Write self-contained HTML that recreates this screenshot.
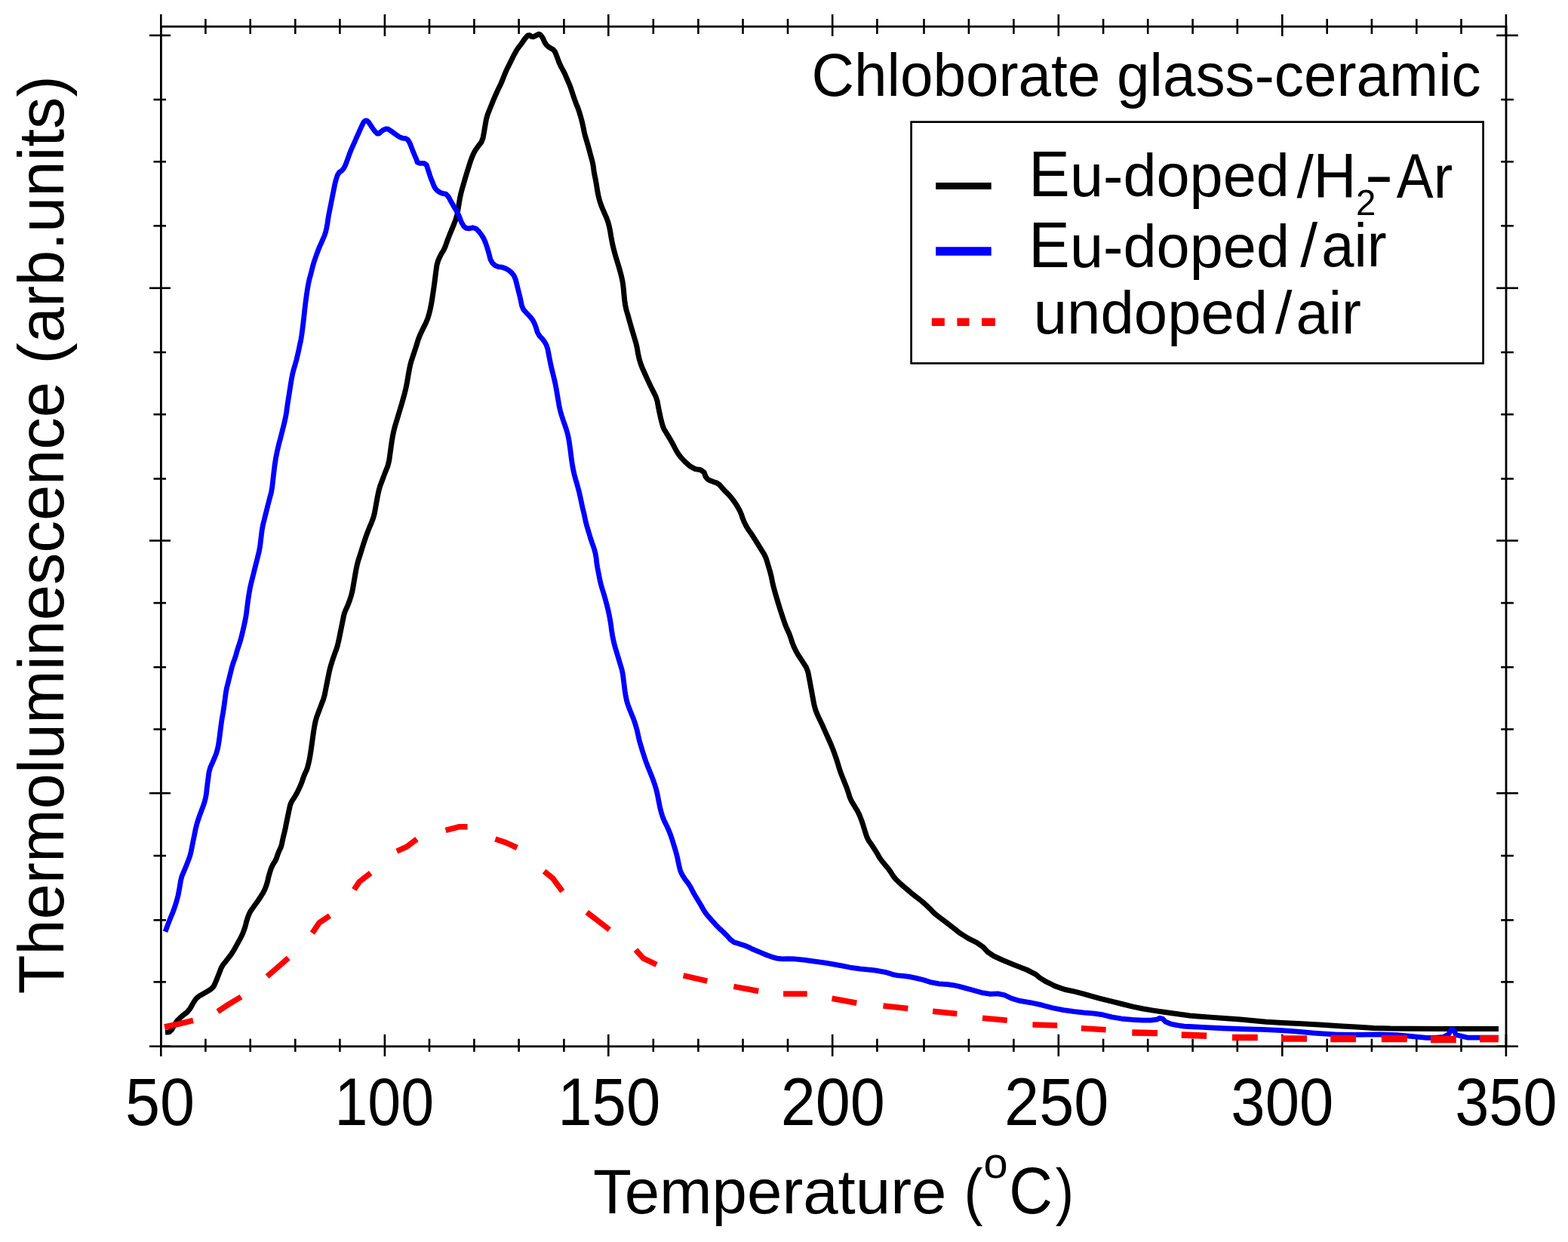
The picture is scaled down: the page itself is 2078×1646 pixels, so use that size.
<!DOCTYPE html>
<html><head><meta charset="utf-8"><title>Thermoluminescence</title>
<style>
html,body{margin:0;padding:0;background:#fff;}
body{width:2078px;height:1646px;overflow:hidden;}
svg{display:block;}
text{font-family:"Liberation Sans", Arial, Helvetica, sans-serif;}
</style></head>
<body>
<svg xmlns="http://www.w3.org/2000/svg" width="2078" height="1646" viewBox="0 0 2078 1646">
<rect width="2078" height="1646" fill="#fff"/>
<line x1="213.3" y1="19" x2="213.3" y2="48" stroke="#000" stroke-width="2.6"/>
<line x1="213.3" y1="1370.8" x2="213.3" y2="1400" stroke="#000" stroke-width="2.6"/>
<line x1="272.4" y1="25" x2="272.4" y2="45" stroke="#000" stroke-width="2.6"/>
<line x1="272.4" y1="1376.7" x2="272.4" y2="1393.9" stroke="#000" stroke-width="2.6"/>
<line x1="331.7" y1="25" x2="331.7" y2="45" stroke="#000" stroke-width="2.6"/>
<line x1="331.7" y1="1376.7" x2="331.7" y2="1393.9" stroke="#000" stroke-width="2.6"/>
<line x1="391.3" y1="25" x2="391.3" y2="45" stroke="#000" stroke-width="2.6"/>
<line x1="391.3" y1="1376.7" x2="391.3" y2="1393.9" stroke="#000" stroke-width="2.6"/>
<line x1="450.4" y1="25" x2="450.4" y2="45" stroke="#000" stroke-width="2.6"/>
<line x1="450.4" y1="1376.7" x2="450.4" y2="1393.9" stroke="#000" stroke-width="2.6"/>
<line x1="509.9" y1="19" x2="509.9" y2="48" stroke="#000" stroke-width="2.6"/>
<line x1="509.9" y1="1370.8" x2="509.9" y2="1400" stroke="#000" stroke-width="2.6"/>
<line x1="569" y1="25" x2="569" y2="45" stroke="#000" stroke-width="2.6"/>
<line x1="569" y1="1376.7" x2="569" y2="1393.9" stroke="#000" stroke-width="2.6"/>
<line x1="628.4" y1="25" x2="628.4" y2="45" stroke="#000" stroke-width="2.6"/>
<line x1="628.4" y1="1376.7" x2="628.4" y2="1393.9" stroke="#000" stroke-width="2.6"/>
<line x1="687.6" y1="25" x2="687.6" y2="45" stroke="#000" stroke-width="2.6"/>
<line x1="687.6" y1="1376.7" x2="687.6" y2="1393.9" stroke="#000" stroke-width="2.6"/>
<line x1="747.4" y1="25" x2="747.4" y2="45" stroke="#000" stroke-width="2.6"/>
<line x1="747.4" y1="1376.7" x2="747.4" y2="1393.9" stroke="#000" stroke-width="2.6"/>
<line x1="806.3" y1="19" x2="806.3" y2="48" stroke="#000" stroke-width="2.6"/>
<line x1="806.3" y1="1370.8" x2="806.3" y2="1400" stroke="#000" stroke-width="2.6"/>
<line x1="865.8" y1="25" x2="865.8" y2="45" stroke="#000" stroke-width="2.6"/>
<line x1="865.8" y1="1376.7" x2="865.8" y2="1393.9" stroke="#000" stroke-width="2.6"/>
<line x1="925.4" y1="25" x2="925.4" y2="45" stroke="#000" stroke-width="2.6"/>
<line x1="925.4" y1="1376.7" x2="925.4" y2="1393.9" stroke="#000" stroke-width="2.6"/>
<line x1="984.5" y1="25" x2="984.5" y2="45" stroke="#000" stroke-width="2.6"/>
<line x1="984.5" y1="1376.7" x2="984.5" y2="1393.9" stroke="#000" stroke-width="2.6"/>
<line x1="1044" y1="25" x2="1044" y2="45" stroke="#000" stroke-width="2.6"/>
<line x1="1044" y1="1376.7" x2="1044" y2="1393.9" stroke="#000" stroke-width="2.6"/>
<line x1="1103.2" y1="19" x2="1103.2" y2="48" stroke="#000" stroke-width="2.6"/>
<line x1="1103.2" y1="1370.8" x2="1103.2" y2="1400" stroke="#000" stroke-width="2.6"/>
<line x1="1162.4" y1="25" x2="1162.4" y2="45" stroke="#000" stroke-width="2.6"/>
<line x1="1162.4" y1="1376.7" x2="1162.4" y2="1393.9" stroke="#000" stroke-width="2.6"/>
<line x1="1224.5" y1="25" x2="1224.5" y2="45" stroke="#000" stroke-width="2.6"/>
<line x1="1224.5" y1="1376.7" x2="1224.5" y2="1393.9" stroke="#000" stroke-width="2.6"/>
<line x1="1283.9" y1="25" x2="1283.9" y2="45" stroke="#000" stroke-width="2.6"/>
<line x1="1283.9" y1="1376.7" x2="1283.9" y2="1393.9" stroke="#000" stroke-width="2.6"/>
<line x1="1343.4" y1="25" x2="1343.4" y2="45" stroke="#000" stroke-width="2.6"/>
<line x1="1343.4" y1="1376.7" x2="1343.4" y2="1393.9" stroke="#000" stroke-width="2.6"/>
<line x1="1402.8" y1="19" x2="1402.8" y2="48" stroke="#000" stroke-width="2.6"/>
<line x1="1402.8" y1="1370.8" x2="1402.8" y2="1400" stroke="#000" stroke-width="2.6"/>
<line x1="1462.1" y1="25" x2="1462.1" y2="45" stroke="#000" stroke-width="2.6"/>
<line x1="1462.1" y1="1376.7" x2="1462.1" y2="1393.9" stroke="#000" stroke-width="2.6"/>
<line x1="1521.2" y1="25" x2="1521.2" y2="45" stroke="#000" stroke-width="2.6"/>
<line x1="1521.2" y1="1376.7" x2="1521.2" y2="1393.9" stroke="#000" stroke-width="2.6"/>
<line x1="1580.6" y1="25" x2="1580.6" y2="45" stroke="#000" stroke-width="2.6"/>
<line x1="1580.6" y1="1376.7" x2="1580.6" y2="1393.9" stroke="#000" stroke-width="2.6"/>
<line x1="1639.8" y1="25" x2="1639.8" y2="45" stroke="#000" stroke-width="2.6"/>
<line x1="1639.8" y1="1376.7" x2="1639.8" y2="1393.9" stroke="#000" stroke-width="2.6"/>
<line x1="1699.3" y1="19" x2="1699.3" y2="48" stroke="#000" stroke-width="2.6"/>
<line x1="1699.3" y1="1370.8" x2="1699.3" y2="1400" stroke="#000" stroke-width="2.6"/>
<line x1="1758.7" y1="25" x2="1758.7" y2="45" stroke="#000" stroke-width="2.6"/>
<line x1="1758.7" y1="1376.7" x2="1758.7" y2="1393.9" stroke="#000" stroke-width="2.6"/>
<line x1="1817.9" y1="25" x2="1817.9" y2="45" stroke="#000" stroke-width="2.6"/>
<line x1="1817.9" y1="1376.7" x2="1817.9" y2="1393.9" stroke="#000" stroke-width="2.6"/>
<line x1="1877.3" y1="25" x2="1877.3" y2="45" stroke="#000" stroke-width="2.6"/>
<line x1="1877.3" y1="1376.7" x2="1877.3" y2="1393.9" stroke="#000" stroke-width="2.6"/>
<line x1="1936.5" y1="25" x2="1936.5" y2="45" stroke="#000" stroke-width="2.6"/>
<line x1="1936.5" y1="1376.7" x2="1936.5" y2="1393.9" stroke="#000" stroke-width="2.6"/>
<line x1="1995.9" y1="19" x2="1995.9" y2="48" stroke="#000" stroke-width="2.6"/>
<line x1="1995.9" y1="1370.8" x2="1995.9" y2="1400" stroke="#000" stroke-width="2.6"/>
<line x1="198" y1="46.9" x2="226" y2="46.9" stroke="#000" stroke-width="2.6"/>
<line x1="1983.2" y1="46.9" x2="2011.9" y2="46.9" stroke="#000" stroke-width="2.6"/>
<line x1="203.5" y1="132" x2="220" y2="132" stroke="#000" stroke-width="2.6"/>
<line x1="1989.2" y1="132" x2="2005.9" y2="132" stroke="#000" stroke-width="2.6"/>
<line x1="203.5" y1="214.3" x2="220" y2="214.3" stroke="#000" stroke-width="2.6"/>
<line x1="1989.2" y1="214.3" x2="2005.9" y2="214.3" stroke="#000" stroke-width="2.6"/>
<line x1="203.5" y1="299.3" x2="220" y2="299.3" stroke="#000" stroke-width="2.6"/>
<line x1="1989.2" y1="299.3" x2="2005.9" y2="299.3" stroke="#000" stroke-width="2.6"/>
<line x1="198" y1="381.8" x2="226" y2="381.8" stroke="#000" stroke-width="2.6"/>
<line x1="1983.2" y1="381.8" x2="2011.9" y2="381.8" stroke="#000" stroke-width="2.6"/>
<line x1="203.5" y1="466.9" x2="220" y2="466.9" stroke="#000" stroke-width="2.6"/>
<line x1="1989.2" y1="466.9" x2="2005.9" y2="466.9" stroke="#000" stroke-width="2.6"/>
<line x1="203.5" y1="549.2" x2="220" y2="549.2" stroke="#000" stroke-width="2.6"/>
<line x1="1989.2" y1="549.2" x2="2005.9" y2="549.2" stroke="#000" stroke-width="2.6"/>
<line x1="203.5" y1="634.5" x2="220" y2="634.5" stroke="#000" stroke-width="2.6"/>
<line x1="1989.2" y1="634.5" x2="2005.9" y2="634.5" stroke="#000" stroke-width="2.6"/>
<line x1="198" y1="716.5" x2="226" y2="716.5" stroke="#000" stroke-width="2.6"/>
<line x1="1983.2" y1="716.5" x2="2011.9" y2="716.5" stroke="#000" stroke-width="2.6"/>
<line x1="203.5" y1="799.1" x2="220" y2="799.1" stroke="#000" stroke-width="2.6"/>
<line x1="1989.2" y1="799.1" x2="2005.9" y2="799.1" stroke="#000" stroke-width="2.6"/>
<line x1="203.5" y1="884.2" x2="220" y2="884.2" stroke="#000" stroke-width="2.6"/>
<line x1="1989.2" y1="884.2" x2="2005.9" y2="884.2" stroke="#000" stroke-width="2.6"/>
<line x1="203.5" y1="966.5" x2="220" y2="966.5" stroke="#000" stroke-width="2.6"/>
<line x1="1989.2" y1="966.5" x2="2005.9" y2="966.5" stroke="#000" stroke-width="2.6"/>
<line x1="198" y1="1051.2" x2="226" y2="1051.2" stroke="#000" stroke-width="2.6"/>
<line x1="1983.2" y1="1051.2" x2="2011.9" y2="1051.2" stroke="#000" stroke-width="2.6"/>
<line x1="203.5" y1="1134.1" x2="220" y2="1134.1" stroke="#000" stroke-width="2.6"/>
<line x1="1989.2" y1="1134.1" x2="2005.9" y2="1134.1" stroke="#000" stroke-width="2.6"/>
<line x1="203.5" y1="1219.4" x2="220" y2="1219.4" stroke="#000" stroke-width="2.6"/>
<line x1="1989.2" y1="1219.4" x2="2005.9" y2="1219.4" stroke="#000" stroke-width="2.6"/>
<line x1="203.5" y1="1301.4" x2="220" y2="1301.4" stroke="#000" stroke-width="2.6"/>
<line x1="1989.2" y1="1301.4" x2="2005.9" y2="1301.4" stroke="#000" stroke-width="2.6"/>
<line x1="198" y1="1386.7" x2="226" y2="1386.7" stroke="#000" stroke-width="2.6"/>
<line x1="1983.2" y1="1386.7" x2="2011.9" y2="1386.7" stroke="#000" stroke-width="2.6"/>
<rect x="213.4" y="35.2" width="1782.6" height="1351.6" fill="none" stroke="#000" stroke-width="2.8"/>
<polyline points="219,1368 220.75,1367.92 224.25,1367.78 227.8,1364.38 231.4,1357.73 235.02,1352.58 238.68,1348.92 242.93,1345.27 247.77,1341.62 251.72,1337.05 254.78,1331.55 257.53,1327 259.97,1323.4 263.92,1320.07 269.38,1317.03 274.55,1313.97 279.45,1310.93 282.7,1307.88 284.3,1304.82 286.38,1300.12 288.92,1293.77 291.15,1288.05 293.05,1282.95 295.6,1278.48 298.8,1274.62 302.32,1270.15 306.18,1265.05 309.7,1259.62 312.9,1253.88 316.07,1248.12 319.23,1242.38 321.78,1236.95 323.72,1231.85 325.32,1226.75 326.57,1221.65 328.15,1216.55 330.05,1211.45 332.6,1206.68 335.8,1202.22 339,1197.75 342.2,1193.25 345.4,1188.45 348.6,1183.35 351.15,1178.25 353.05,1173.15 354.65,1167.72 355.95,1161.97 357.55,1156.25 359.45,1150.55 361.67,1145.78 364.23,1141.92 366.45,1137.2 368.35,1131.6 370.2,1126.97 372,1123.33 373.37,1119.08 374.33,1114.22 375.55,1108.77 377.05,1102.73 378.4,1096.65 379.6,1090.55 380.82,1084.47 382.07,1078.43 383.3,1072.65 384.5,1067.15 386.33,1062.58 388.77,1058.92 391.2,1054.97 393.6,1050.72 396.03,1045.88 398.47,1040.43 400.6,1034.95 402.4,1029.45 404.23,1024.88 406.07,1021.22 407.6,1016.97 408.8,1012.13 409.87,1007.28 410.83,1002.42 411.93,995.58 413.18,986.72 414.4,978.05 415.6,969.55 416.8,962.27 418,956.23 419.53,950.75 421.38,945.85 423.2,940.97 425,936.13 426.82,931.28 428.68,926.42 430.2,920.95 431.4,914.85 432.6,908.77 433.8,902.73 435.02,896.65 436.27,890.55 437.5,885.38 438.7,881.12 440.2,876.27 442,870.83 443.82,865.65 445.68,860.75 447.2,855.87 448.4,851.03 449.6,845.58 450.8,839.52 452.02,833.45 453.27,827.35 454.5,821.27 455.7,815.23 457.73,809.15 460.57,803.05 463.12,796.5 465.38,789.5 467.1,782.65 468.3,775.95 469.5,768.95 470.7,761.65 471.93,754.98 473.18,748.92 474.7,743.15 476.5,737.65 478.32,731.88 480.18,725.82 482,720.05 483.8,714.55 485.6,709.37 487.4,704.53 489.23,699.98 491.07,695.73 492.9,691.18 494.7,686.32 496.23,680.55 497.48,673.85 498.7,667.15 499.9,660.45 501.1,654.38 502.3,648.93 503.82,643.78 505.68,638.92 507.5,634.05 509.3,629.15 511.42,623.68 513.88,617.62 515.68,610.45 516.82,602.15 518,593.75 519.2,585.25 520.42,577.95 521.67,571.85 523.2,565.77 525,559.73 526.82,553.65 528.68,547.55 530.5,541.48 532.3,535.42 534.12,529.05 535.97,522.35 537.5,516.27 538.7,510.83 539.9,504.45 541.1,497.15 542.3,490.45 543.5,484.35 545.03,478.58 546.88,473.12 548.7,467.65 550.5,462.15 552.32,456.37 554.18,450.33 556.3,444.7 558.7,439.5 561.42,433.87 564.48,427.83 566.9,421.75 568.7,415.65 570.23,409.58 571.48,403.52 572.55,397.45 573.45,391.35 574.35,385.28 575.25,379.22 576.15,372.55 577.05,365.25 577.98,358.25 578.92,351.55 580.6,345.47 583,340.03 585.4,335.48 587.8,331.82 590.33,326.2 592.97,318.6 595.82,311.15 598.88,303.85 601.6,297.15 604,291.05 605.83,284.35 607.08,277.05 608.3,269.75 609.5,262.45 611.03,255.48 612.88,248.82 614.7,242.45 616.5,236.35 618.32,230.28 620.18,224.22 622,218.45 623.8,212.95 625.6,208.07 627.4,203.82 629.52,199.87 631.98,196.23 634.78,192.43 637.92,188.47 640.23,182.32 641.67,173.98 643.02,166.15 644.27,158.85 646.1,152.15 648.5,146.05 650.93,139.97 653.38,133.93 655.8,128.18 658.2,122.72 660.62,117.55 663.07,112.65 665.22,107.78 667.08,102.92 668.9,98.38 670.7,94.12 672.83,89.58 675.27,84.72 677.7,79.85 680.1,74.95 682.52,70.38 684.98,66.12 687.43,62.5 689.88,59.5 692.3,56.17 694.7,52.53 697.12,49.48 699.57,47.02 702,46.7 704.4,48.5 706.83,48.8 709.27,47.6 711.58,46.4 713.72,45.2 715.85,45.8 717.95,48.2 719.92,51.55 721.78,55.85 723.9,59.2 726.3,61.6 729.33,63.72 732.97,65.58 735.72,68.92 737.58,73.78 739.4,78.62 741.2,83.48 743.62,88.65 746.68,94.15 749.1,99.03 750.9,103.28 752.72,107.53 754.58,111.78 756.4,116.63 758.2,122.07 760.03,127.52 761.87,132.97 763.7,137.85 765.5,142.15 767.32,147.33 769.18,153.38 770.7,158.83 771.9,163.67 773.1,169.15 774.3,175.25 775.82,181.33 777.68,187.38 779.5,193.75 781.3,200.45 783.13,207.15 784.97,213.85 786.3,220.4 787.1,226.8 788.08,232.6 789.22,237.8 790.4,244.35 791.6,252.25 792.95,259.22 794.45,265.28 796.43,271.35 798.88,277.45 801.33,283.23 803.77,288.67 805.75,294.15 807.25,299.65 808.6,306.05 809.8,313.35 811.17,320.65 812.73,327.95 814.4,334.62 816.2,340.67 818.03,346.75 819.87,352.85 821.7,359.22 823.5,365.88 824.82,371.9 825.68,377.3 826.4,383.65 827,390.95 827.77,397.95 828.73,404.65 830.1,411.02 831.9,417.08 833.72,423.45 835.58,430.15 837.4,436.52 839.2,442.58 841.03,448.65 842.87,454.75 844.4,461.45 845.6,468.75 847.1,475.42 848.9,481.48 851.02,487.25 853.48,492.75 855.93,498.23 858.38,503.67 860.8,508.82 863.2,513.68 865.92,519.15 868.98,525.25 871.1,531.65 872.3,538.35 873.67,545.33 875.23,552.58 876.75,558.95 878.25,564.45 880.17,569.1 882.53,572.9 885.53,577.82 889.17,583.88 892.52,589.95 895.58,596.05 898.93,601.53 902.57,606.38 907.75,611.85 914.45,617.95 921.42,621.6 928.67,622.8 933.22,626.12 935.08,631.57 937.83,635.22 941.47,637.08 945.42,638.6 949.67,639.8 953.77,642.72 957.73,647.38 961.83,651.83 966.08,656.08 970.03,660.65 973.67,665.55 977.02,670.73 980.08,676.17 982.5,681.62 984.3,687.07 986.43,692.25 988.88,697.15 991.62,701.73 994.68,705.98 997.73,710.53 1000.77,715.37 1003.8,720.22 1006.8,725.08 1009.82,729.92 1012.88,734.78 1015.32,740.25 1017.18,746.35 1019,752.45 1020.8,758.55 1022.3,764.62 1023.5,770.68 1024.72,776.13 1025.97,780.97 1027.5,786.45 1029.3,792.55 1031.12,798.62 1032.98,804.68 1034.8,810.45 1036.6,815.95 1038.42,821.43 1040.28,826.88 1042.65,832.75 1045.55,839.05 1047.92,845.23 1049.78,851.27 1052.2,857.35 1055.2,863.45 1058.53,869.23 1062.17,874.67 1065.53,879.82 1068.57,884.68 1070.7,890.15 1071.9,896.25 1073.12,902.65 1074.38,909.35 1075.6,916.03 1076.8,922.67 1078,929.05 1079.2,935.15 1080.72,940.63 1082.58,945.47 1084.7,950.32 1087.1,955.18 1089.52,960.35 1091.98,965.85 1094.43,971.33 1096.88,976.77 1099.3,982.23 1101.7,987.67 1104.12,993.75 1106.57,1000.45 1108.6,1006.35 1110.2,1011.45 1111.6,1016.05 1112.8,1020.15 1114.6,1025.23 1117,1031.27 1119.43,1037.35 1121.88,1043.45 1124,1049.53 1125.8,1055.57 1127.93,1060.72 1130.38,1064.97 1133.12,1069.55 1136.18,1074.45 1138.9,1079.93 1141.3,1085.97 1143.42,1092.05 1145.28,1098.15 1147.1,1103.93 1148.9,1109.38 1151.32,1114.22 1154.38,1118.47 1157.43,1123.02 1160.47,1127.88 1163.22,1132.42 1165.68,1136.67 1168.4,1140.62 1171.4,1144.27 1174.43,1147.92 1177.47,1151.58 1180.53,1155.85 1183.57,1160.75 1186.92,1165 1190.58,1168.6 1194.53,1172.23 1198.78,1175.88 1203.03,1179.53 1207.28,1183.17 1211.83,1186.83 1216.67,1190.47 1221.22,1194.12 1225.47,1197.77 1229.42,1201.42 1233.08,1205.08 1236.18,1208.18 1238.72,1210.72 1244.42,1215.28 1253.28,1221.82 1262.53,1228.95 1272.17,1236.65 1282.78,1243.4 1294.32,1249.2 1302.97,1255.22 1308.72,1261.47 1317.38,1267.25 1328.93,1272.55 1343.38,1278.55 1360.73,1285.25 1372.28,1291.02 1378.03,1295.88 1386.68,1301.17 1398.22,1306.92 1410.75,1311.25 1424.25,1314.15 1435.8,1317.05 1445.4,1319.95 1457.9,1323.33 1473.3,1327.17 1487.75,1330.77 1501.25,1334.12 1515.22,1337 1529.68,1339.4 1544.1,1341.57 1558.5,1343.53 1569.28,1344.97 1576.42,1345.93 1588,1346.98 1604,1348.12 1622.5,1349.5 1643.5,1351.1 1662,1352.65 1678,1354.15 1699.25,1355.55 1725.75,1356.85 1752.25,1358.3 1778.75,1359.9 1801.5,1361.28 1820.5,1362.42 1842.5,1363.1 1867.5,1363.3 1906.5,1363.4 1959.5,1363.4 1986,1363.4" fill="none" stroke="#000000" stroke-width="7" stroke-linejoin="round"/>
<polyline points="219,1234.8 220.35,1231.15 223.05,1223.85 225.93,1216.55 228.97,1209.25 231.72,1201.65 234.18,1193.75 236,1186.75 237.2,1180.65 238.4,1173.95 239.6,1166.65 241.12,1160.88 242.98,1156.62 245.12,1151.47 247.58,1145.43 249.7,1139.98 251.5,1135.12 253,1129.65 254.2,1123.55 255.43,1117.45 256.68,1111.35 257.9,1105.27 259.1,1099.23 260.6,1093.15 262.4,1087.05 264.23,1081.58 266.07,1076.72 267.9,1071.88 269.7,1067.02 271.23,1062.17 272.48,1057.33 273.45,1051.68 274.15,1045.22 274.75,1040.2 275.25,1036.6 275.95,1031.15 276.85,1023.85 278.68,1017.15 281.43,1011.05 284.03,1004.98 286.47,998.92 288.3,992.85 289.5,986.75 290.55,980.05 291.45,972.75 292.38,965.45 293.33,958.15 294.4,951.17 295.6,944.53 296.65,937.85 297.55,931.15 298.45,924.45 299.35,917.75 300.43,911.97 301.68,907.13 303.05,901.65 304.55,895.55 306.05,889.48 307.55,883.42 309.23,877.97 311.07,873.13 312.75,867.95 314.25,862.45 315.85,857.28 317.55,852.42 319.35,846.2 321.25,838.6 323.12,830.52 324.97,821.98 326.35,814.08 327.25,806.83 328.15,799.85 329.05,793.15 330.1,786.45 331.3,779.75 332.67,773.38 334.23,767.32 335.75,761.25 337.25,755.15 338.77,749.08 340.33,743.02 341.85,736.95 343.35,730.85 344.55,724.15 345.45,716.85 346.35,709.55 347.25,702.25 348.47,695.58 350.03,689.52 351.55,683.45 353.05,677.35 354.58,671.27 356.12,665.23 357.72,659.15 359.38,653.05 360.7,645.58 361.7,636.72 362.8,627.15 364,616.85 365.53,607.12 367.38,597.97 369.35,589.45 371.45,581.55 373.43,573.95 375.27,566.65 376.95,559.67 378.45,553.03 379.67,546.05 380.63,538.75 381.7,531.45 382.9,524.15 384.1,516.55 385.3,508.65 386.5,501.65 387.7,495.55 389.23,489.48 391.07,483.42 392.75,477.35 394.25,471.25 395.62,465.17 396.88,459.13 397.75,455.08 398.25,453.02 398.9,449.57 399.7,444.73 400.7,437.45 401.9,427.75 402.95,418.65 403.85,410.15 404.9,401.32 406.1,392.18 407.32,383.95 408.57,376.65 409.95,370.27 411.45,364.83 412.95,359.08 414.45,353.02 416.12,347.25 417.97,341.75 419.8,336.57 421.6,331.73 423.57,326.88 425.73,322.03 427.88,317.15 430.03,312.25 431.7,307.08 432.9,301.62 433.95,295.85 434.85,289.75 435.8,284.2 436.8,279.2 437.75,274.42 438.65,269.88 439.78,264.18 441.12,257.33 442.5,250.48 443.9,243.62 445.5,237.47 447.3,232.03 449.57,228.4 452.32,226.6 454.6,224.32 456.4,221.57 458.23,217.7 460.07,212.7 461.9,207.67 463.7,202.62 465.53,198.05 467.38,193.95 469.2,189.85 471,185.75 472.82,181.65 474.68,177.55 476.5,173.45 478.3,169.35 480.12,165.48 481.97,161.82 484.02,160 486.27,160 488.55,161.82 490.85,165.48 493.12,168.9 495.38,172.1 497.65,174.85 499.95,177.15 502.48,176.93 505.23,174.18 508.18,172.13 511.32,170.77 514.27,171 517.02,172.8 520,174.85 523.2,177.15 526.4,179.43 529.6,181.68 533.25,183.03 537.35,183.47 540.3,185.07 542.1,187.82 543.67,191.02 545.03,194.68 546.62,198.78 548.47,203.32 550,206.95 551.2,209.65 552.25,212.35 553.15,215.05 556.35,216.4 561.85,216.4 565.33,218.68 566.77,223.22 568.23,227.78 569.67,232.32 571.12,236.42 572.57,240.08 574.02,243.73 575.48,247.37 577.4,250.4 579.8,252.8 582.38,254.62 585.12,255.88 587.98,256.7 590.92,257.1 594.22,260.65 597.88,267.35 601.53,273.72 605.17,279.78 608.52,286.75 611.58,294.65 614.62,299.83 617.68,302.27 621.62,302.9 626.47,301.7 630.72,302.9 634.38,306.5 637.73,310.75 640.77,315.65 643.5,321.75 645.9,329.05 648.03,336.32 649.88,343.57 652.62,348.72 656.28,351.78 660.53,353.6 665.38,354.2 669.92,355.73 674.17,358.17 677.82,361.22 680.88,364.88 683.3,370.35 685.1,377.65 686.92,384.95 688.78,392.25 690.3,398.92 691.5,404.98 693.33,409.52 695.77,412.58 698.83,415.93 702.47,419.57 705.5,423.52 707.9,427.77 710.1,433.27 712.1,440.02 714.93,445.22 718.57,448.88 721.6,452.82 724,457.07 725.83,462.52 727.08,469.18 728.45,476.15 729.95,483.45 731.48,490.15 733.02,496.25 734.55,502.65 736.05,509.35 737.4,516.33 738.6,523.58 739.83,530.85 741.08,538.15 742.6,544.85 744.4,550.95 746.37,557.02 748.53,563.08 750.5,569.15 752.3,575.25 753.8,582.25 755,590.15 756.08,598.05 757.02,605.95 758,612.92 759,618.98 760.1,624.55 761.3,629.65 762.8,635.23 764.6,641.27 766.27,647.35 767.83,653.45 769.35,660.15 770.85,667.45 772.2,673.53 773.4,678.38 774.62,683.82 775.88,689.88 777.4,695.95 779.2,702.05 781.03,708.12 782.87,714.18 784.7,719.65 786.5,724.55 788,729.42 789.2,734.28 790.12,739.73 790.78,745.77 791.7,751.85 792.9,757.95 794.1,764.05 795.3,770.15 796.82,776.23 798.68,782.27 800.5,788.35 802.3,794.45 803.95,800.52 805.45,806.58 806.95,813.35 808.45,820.85 809.65,828.25 810.55,835.55 811.75,842.85 813.25,850.15 814.92,856.82 816.78,862.88 818.6,868.95 820.4,875.05 822.22,881.12 824.08,887.18 825.45,893.85 826.35,901.15 827.25,908.45 828.15,915.75 829.23,922.42 830.48,928.48 832.3,934.55 834.7,940.65 837.12,946.75 839.57,952.85 841.7,958.92 843.5,964.98 845.02,971.05 846.27,977.15 847.8,983.23 849.6,989.27 851.25,994.72 852.75,999.58 854.38,1004.55 856.12,1009.65 858.23,1015.23 860.67,1021.27 863.1,1027.35 865.5,1033.45 867.63,1039.53 869.47,1045.57 871,1051.65 872.2,1057.75 873.4,1063.82 874.6,1069.88 876.13,1075.95 877.97,1082.05 880.42,1088.12 883.48,1094.18 886.2,1100.25 888.6,1106.35 890.72,1112.43 892.58,1118.47 894.4,1124.55 896.2,1130.65 897.73,1136.75 898.98,1142.85 900.2,1148.33 901.4,1153.17 903.23,1157.72 905.67,1161.97 908.62,1166.3 912.07,1170.7 915.25,1175.78 918.15,1181.53 921.53,1187.55 925.37,1193.85 929.22,1200.35 933.08,1207.05 937.17,1212.8 941.53,1217.6 945.63,1222.17 949.47,1226.53 953.8,1230.88 958.6,1235.23 963.4,1240.05 968.2,1245.35 972.78,1248.7 977.12,1250.1 981.7,1251.52 986.5,1252.98 991.3,1254.9 996.1,1257.3 1000.92,1259.47 1005.78,1261.43 1011.08,1263.6 1016.83,1266 1023.08,1268.18 1029.83,1270.12 1037.05,1270.97 1044.75,1270.72 1052.45,1270.95 1060.15,1271.65 1067.38,1272.47 1074.12,1273.43 1081.35,1274.4 1089.05,1275.4 1097.18,1276.62 1105.72,1278.07 1115.4,1279.88 1126.2,1282.02 1140.72,1284.02 1158.97,1285.88 1172.95,1288.3 1182.65,1291.3 1190.62,1292.97 1196.88,1293.33 1204.8,1294.45 1214.4,1296.35 1224.15,1298.82 1234.05,1301.88 1244.65,1303.8 1255.95,1304.6 1266.4,1306.2 1276,1308.6 1287.55,1311.72 1301.05,1315.58 1312.6,1317.28 1322.2,1316.82 1331.35,1318.75 1340.05,1323.05 1351.6,1326.4 1366,1328.8 1380.43,1331.92 1394.87,1335.78 1409.32,1338.68 1423.78,1340.62 1437.25,1342.07 1449.75,1343.03 1461.78,1344.95 1473.32,1347.85 1486.32,1350.02 1500.78,1351.48 1513.78,1352.2 1525.32,1352.2 1533.02,1351.23 1536.88,1349.27 1540.72,1350.22 1544.58,1354.08 1551.3,1356.97 1560.9,1358.93 1569.28,1360.1 1576.42,1360.5 1593.25,1361.38 1619.75,1362.73 1646.25,1363.73 1672.75,1364.38 1694,1365.28 1710,1366.42 1725.75,1367.67 1741.25,1369.03 1756.75,1370.15 1772.25,1371.05 1795.75,1371.33 1827.25,1370.97 1851,1371.6 1867,1373.2 1880.25,1374.42 1890.75,1375.28 1901.5,1375.28 1912.5,1374.42 1919.75,1370.75 1923.25,1364.25 1926.5,1364.5 1929.5,1371.5 1944.75,1375.05 1972.25,1375.15 1986,1375.2" fill="none" stroke="#0000ff" stroke-width="6.8" stroke-linejoin="round"/>
<polyline points="218,1361 237,1357 256,1352.5" fill="none" stroke="#ff0000" stroke-width="7.5" stroke-linejoin="round" stroke-linecap="butt"/>
<polyline points="288.5,1340.6 303,1331 319.5,1321.1" fill="none" stroke="#ff0000" stroke-width="7.5" stroke-linejoin="round" stroke-linecap="butt"/>
<polyline points="354,1294 368,1282 382.2,1269.5" fill="none" stroke="#ff0000" stroke-width="7.5" stroke-linejoin="round" stroke-linecap="butt"/>
<polyline points="413.9,1236.7 423.1,1222.9 437,1213.6" fill="none" stroke="#ff0000" stroke-width="7.5" stroke-linejoin="round" stroke-linecap="butt"/>
<polyline points="469.3,1179 476.2,1168.6 491.2,1157" fill="none" stroke="#ff0000" stroke-width="7.5" stroke-linejoin="round" stroke-linecap="butt"/>
<polyline points="525.9,1128.1 538.6,1122.4 552.5,1112" fill="none" stroke="#ff0000" stroke-width="7.5" stroke-linejoin="round" stroke-linecap="butt"/>
<polyline points="590.6,1100.4 607.9,1095.8 619.5,1095.8" fill="none" stroke="#ff0000" stroke-width="7.5" stroke-linejoin="round" stroke-linecap="butt"/>
<polyline points="656.4,1112 670.3,1116.6 685.3,1123.5" fill="none" stroke="#ff0000" stroke-width="7.5" stroke-linejoin="round" stroke-linecap="butt"/>
<polyline points="721.1,1154.7 732.6,1164 745.3,1181.3" fill="none" stroke="#ff0000" stroke-width="7.5" stroke-linejoin="round" stroke-linecap="butt"/>
<polyline points="777.7,1209 792.7,1220.5 807.7,1232.1" fill="none" stroke="#ff0000" stroke-width="7.5" stroke-linejoin="round" stroke-linecap="butt"/>
<polyline points="842.4,1258.7 852.8,1270.2 870.1,1278.3" fill="none" stroke="#ff0000" stroke-width="7.5" stroke-linejoin="round" stroke-linecap="butt"/>
<polyline points="905.6,1292.8 937.2,1300.1" fill="none" stroke="#ff0000" stroke-width="7.5" stroke-linejoin="round" stroke-linecap="butt"/>
<polyline points="972.4,1307.4 1005.2,1313.5" fill="none" stroke="#ff0000" stroke-width="7.5" stroke-linejoin="round" stroke-linecap="butt"/>
<polyline points="1038.1,1317.1 1069.7,1317.1" fill="none" stroke="#ff0000" stroke-width="7.5" stroke-linejoin="round" stroke-linecap="butt"/>
<polyline points="1102.5,1323.2 1135.3,1329.3" fill="none" stroke="#ff0000" stroke-width="7.5" stroke-linejoin="round" stroke-linecap="butt"/>
<polyline points="1170.5,1332.9 1203.3,1336.6" fill="none" stroke="#ff0000" stroke-width="7.5" stroke-linejoin="round" stroke-linecap="butt"/>
<polyline points="1236.1,1340.2 1268.3,1343.5" fill="none" stroke="#ff0000" stroke-width="7.5" stroke-linejoin="round" stroke-linecap="butt"/>
<polyline points="1302,1349.3 1334.7,1352.2" fill="none" stroke="#ff0000" stroke-width="7.5" stroke-linejoin="round" stroke-linecap="butt"/>
<polyline points="1368.4,1358 1401.2,1358.9" fill="none" stroke="#ff0000" stroke-width="7.5" stroke-linejoin="round" stroke-linecap="butt"/>
<polyline points="1432.9,1362.7 1465.6,1364.7" fill="none" stroke="#ff0000" stroke-width="7.5" stroke-linejoin="round" stroke-linecap="butt"/>
<polyline points="1500.3,1368.5 1534,1369.1" fill="none" stroke="#ff0000" stroke-width="8.5" stroke-linejoin="round" stroke-linecap="butt"/>
<polyline points="1565.7,1371.4 1599.2,1372.8" fill="none" stroke="#ff0000" stroke-width="8.5" stroke-linejoin="round" stroke-linecap="butt"/>
<polyline points="1633,1375 1666.8,1375" fill="none" stroke="#ff0000" stroke-width="8.5" stroke-linejoin="round" stroke-linecap="butt"/>
<polyline points="1698,1376.6 1732,1376.6" fill="none" stroke="#ff0000" stroke-width="8.5" stroke-linejoin="round" stroke-linecap="butt"/>
<polyline points="1763.2,1376.4 1797,1376.4" fill="none" stroke="#ff0000" stroke-width="9.5" stroke-linejoin="round" stroke-linecap="butt"/>
<polyline points="1830.8,1376.6 1864.7,1376.6" fill="none" stroke="#ff0000" stroke-width="9.5" stroke-linejoin="round" stroke-linecap="butt"/>
<polyline points="1895.9,1377.4 1929.8,1377.4" fill="none" stroke="#ff0000" stroke-width="9.5" stroke-linejoin="round" stroke-linecap="butt"/>
<polyline points="1961,1376.6 1985.9,1376.6" fill="none" stroke="#ff0000" stroke-width="9.5" stroke-linejoin="round" stroke-linecap="butt"/>
<rect x="1207.6" y="161.6" width="758" height="319.9" fill="none" stroke="#000" stroke-width="2.7"/>
<line x1="1240.2" y1="246.4" x2="1313.7" y2="246.4" stroke="#000" stroke-width="9"/>
<line x1="1240.2" y1="333" x2="1313.7" y2="333" stroke="#0000ff" stroke-width="11.5"/>
<line x1="1234.8" y1="426.8" x2="1251.8" y2="426.8" stroke="#ff0000" stroke-width="10.5"/>
<line x1="1268.4" y1="426.8" x2="1284.5" y2="426.8" stroke="#ff0000" stroke-width="10.5"/>
<line x1="1301" y1="426.8" x2="1319" y2="426.8" stroke="#ff0000" stroke-width="10.5"/>
<g fill="#000">
<text transform="matrix(0.782682,0,0,0.802759,1075.49,127.20)" font-size="100">Chloborate glass-ceramic</text>
<text transform="matrix(0.816590,0,0,0.849455,1363.36,259.60)" font-size="100">E</text>
<text transform="matrix(0.792661,0,0,0.805517,1417.95,259.60)" font-size="100">u-doped</text>
<text transform="matrix(0.803604,0,0,0.791724,1718.60,261.60)" font-size="100">/</text>
<text transform="matrix(0.789238,0,0,0.834909,1740.49,261.60)" font-size="100">H</text>
<text transform="matrix(0.474725,0,0,0.486022,1797.03,284.70)" font-size="100">2</text>
<text transform="matrix(1.171134,0,0,0.834909,1808.03,259.60)" font-size="100">-</text>
<text transform="matrix(0.732075,0,0,0.834909,1850.82,261.60)" font-size="100">A</text>
<text transform="matrix(0.768000,0,0,0.791724,1899.72,261.60)" font-size="100">r</text>
<text transform="matrix(0.816590,0,0,0.843636,1363.36,353.50)" font-size="100">E</text>
<text transform="matrix(0.793225,0,0,0.800000,1417.94,353.50)" font-size="100">u-doped</text>
<text transform="matrix(0.825225,0,0,0.806897,1723.30,353.40)" font-size="100">/</text>
<text transform="matrix(0.777197,0,0,0.806897,1751.30,353.40)" font-size="100">air</text>
<text transform="matrix(0.797610,0,0,0.797241,1369.72,441.70)" font-size="100">undoped</text>
<text transform="matrix(0.807207,0,0,0.797241,1690.10,441.70)" font-size="100">/</text>
<text transform="matrix(0.777197,0,0,0.797241,1717.60,441.70)" font-size="100">air</text>
<text transform="matrix(0.828087,0,0,0.891636,165.89,1490.70)" font-size="100">50</text>
<text transform="matrix(0.789068,0,0,0.891636,443.48,1490.70)" font-size="100">100</text>
<text transform="matrix(0.814791,0,0,0.891636,739.29,1490.70)" font-size="100">150</text>
<text transform="matrix(0.828481,0,0,0.891636,1034.66,1490.70)" font-size="100">200</text>
<text transform="matrix(0.828481,0,0,0.891636,1331.06,1490.70)" font-size="100">250</text>
<text transform="matrix(0.815699,0,0,0.891636,1631.34,1490.70)" font-size="100">300</text>
<text transform="matrix(0.811931,0,0,0.891636,1928.16,1490.70)" font-size="100">350</text>
<text transform="matrix(0.834610,0,0,0.833103,785.92,1607.80)" font-size="100">Temperature</text>
<text transform="matrix(0.750476,0,0,0.833103,1277.51,1607.80)" font-size="100">(</text>
<text transform="matrix(0.577778,0,0,0.582326,1303.44,1561.00)" font-size="100">o</text>
<text transform="matrix(0.798419,0,0,0.865950,1337.31,1607.80)" font-size="100">C</text>
<text transform="matrix(0.731429,0,0,0.833103,1398.85,1607.80)" font-size="100">)</text>
<text transform="translate(84.30,1317.61) rotate(-90) scale(0.849035,0.848276)" font-size="100">Thermoluminescence (arb.units)</text>
</g>
</svg>
</body></html>
